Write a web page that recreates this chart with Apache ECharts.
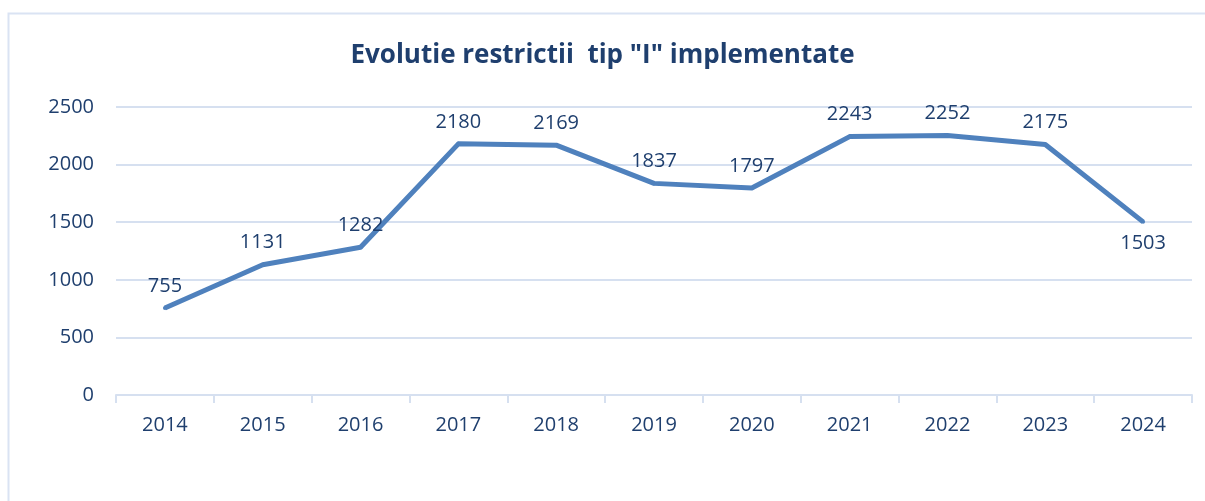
<!doctype html>
<html>
<head>
    <meta charset="utf-8">
    <title>Evolutie restrictii</title>
    <style>
        html, body { margin: 0; padding: 0; background: #fff; }
        #chart { width: 1205px; height: 501px; }
    </style>
</head>
<body>
    <div id="chart"></div>
    <script src="https://cdn.jsdelivr.net/npm/echarts@6/dist/echarts.min.js"></script>
    <script>
    // date
    var years = ['2014', '2015', '2016', '2017', '2018', '2019', '2020', '2021', '2022', '2023', '2024'];
    var values = [755, 1131, 1282, 2180, 2169, 1837, 1797, 2243, 2252, 2175, 1503];
    var yTicks = [0, 500, 1000, 1500, 2000, 2500];

    var textColor = '#1f3f6e';
    var font = '"Open Sans", sans-serif';

    var myChart = echarts.init(document.getElementById('chart'));

    var seriesData = values.map(function (v, i) {
        var item = { value: v };
        if (i === values.length - 1) {
            item.label = { position: 'bottom', distance: 9 };
        }
        return item;
    });

    var option = {
        animation: false,
        graphic: [{
            type: 'rect',
            shape: { x: 8.5, y: 13.5, width: 1210, height: 500 },
            style: { fill: 'none', stroke: '#dae3f3', lineWidth: 2 },
            silent: true
        }],
        title: {
            text: 'Evolutie restrictii  tip "I" implementate',
            left: 'center',
            top: 38,
            textStyle: {
                color: textColor,
                fontFamily: font,
                fontWeight: 'bold',
                fontSize: 26
            }
        },
        grid: {
            left: 116,
            right: 13,
            top: 107,
            bottom: 106
        },
        xAxis: {
            type: 'category',
            data: years,
            boundaryGap: true,
            axisLine: { lineStyle: { color: '#d6e0f0', width: 2 } },
            axisTick: { show: true, length: 8, lineStyle: { color: '#d6e0f0', width: 2 } },
            axisLabel: {
                color: textColor,
                fontFamily: font,
                fontSize: 20,
                margin: 20
            }
        },
        yAxis: {
            type: 'value',
            min: yTicks[0],
            max: yTicks[yTicks.length - 1],
            interval: 500,
            axisLine: { show: false },
            axisTick: { show: false },
            splitLine: { lineStyle: { color: '#d6e0f0', width: 2 } },
            axisLabel: {
                color: textColor,
                fontFamily: font,
                fontSize: 20,
                margin: 22,
                formatter: function (v) { return String(v); }
            }
        },
        series: [{
            type: 'line',
            data: seriesData,
            symbol: 'circle',
            symbolSize: 4,
            showSymbol: true,
            itemStyle: { color: '#4f81bd' },
            lineStyle: { color: '#4f81bd', width: 5, join: 'round' },
            label: {
                show: true,
                position: 'top',
                distance: 10,
                color: textColor,
                fontFamily: font,
                fontSize: 20
            },
            labelLayout: { hideOverlap: false }
        }]
    };

    myChart.setOption(option);
    </script>
</body>
</html>
